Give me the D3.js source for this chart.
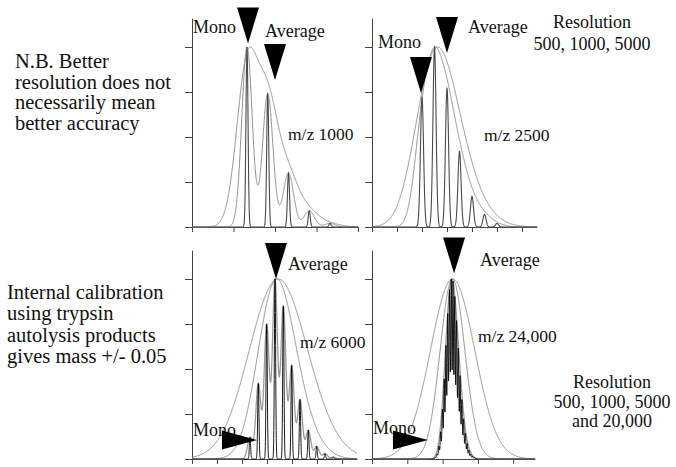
<!DOCTYPE html>
<html>
<head>
<meta charset="utf-8">
<script src="https://cdn.jsdelivr.net/npm/d3@7"></script>
<style>
body { margin: 0; background: #fff; }
svg { display: block; }
</style>
</head>
<body>
<svg id="chart" width="676" height="467"></svg>
<script>
'use strict';

// nominal m/z of the monoisotopic peak in each panel
const panelMz = [1000, 2500, 6000, 24000];
const panelLabels = ["m/z 1000", "m/z 2500", "m/z 6000", "m/z 24,000"];

// resolving powers simulated in the top and bottom rows
const topResolutions = [500, 1000, 5000];
const bottomResolutions = [500, 1000, 5000, 20000];

// relative isotope abundances, mono first, 1 Da apart
const isotopes1000 = [1.0, 0.74, 0.30, 0.09, 0.02];
const isotopes2500 = [0.72, 1.0, 0.77, 0.42, 0.17, 0.07, 0.02];
const isotopes6000 = [0.12, 0.42, 0.75, 1.0, 0.85, 0.52, 0.33, 0.16, 0.07, 0.03, 0.01];
const isotopes24000 = [0, 0, 0.002, 0.009, 0.028, 0.071, 0.151, 0.277, 0.443, 0.630, 0.806,
	0.938, 1.0, 0.985, 0.900, 0.768, 0.614, 0.462, 0.329, 0.222, 0.142, 0.087, 0.050,
	0.028, 0.015, 0.008, 0.004];

const yTickValues = [0, 0.25, 0.5, 0.75, 1];

// arrow targets: [m/z, relative intensity]
const monoMarks = [[1000.05, 1.02], [2499.92, 0.744], [6000.84, 0.105], [23998.8, 0.105]];
const averageMarks = [[1001.35, 0.817], [2502.0, 0.967], [6003.12, 1.0], [24013.6, 1.03]];

const noteTop = ["N.B. Better", "resolution does not", "necessarily mean", "better accuracy"];
const noteBottom = ["Internal calibration", "using trypsin", "autolysis products", "gives mass +/- 0.05"];
const resolutionTop = ["Resolution", "500, 1000, 5000"];
const resolutionBottom = ["Resolution", "500, 1000, 5000", "and 20,000"];

const fontFamily = "'Liberation Serif', 'Times New Roman', Times, 'DejaVu Serif', serif";

let svg = d3.select("#chart");

let panels = [
	{isotopes: isotopes1000, res: topResolutions, range: [192, 358], base: 227, domain: [997.35, 1005.35], step: 2,
		label: [288, 140], mono: [193, 33], average: [265, 37], monoDir: "down", row: "top"},
	{isotopes: isotopes2500, res: topResolutions, range: [372, 537], base: 227, domain: [2496, 2509.2], step: 2,
		label: [484, 141], mono: [378, 48], average: [468, 33], monoDir: "down", row: "top"},
	{isotopes: isotopes6000, res: bottomResolutions, range: [192, 357], base: 459, domain: [5993.04, 6012.84], step: 3,
		label: [300, 348], mono: [193, 436], average: [288, 270], monoDir: "right", row: "bottom"},
	{isotopes: isotopes24000, res: bottomResolutions, range: [372, 535], base: 459, domain: [23967.1, 24059.45], step: 20,
		label: [478, 342], mono: [373, 434], average: [480, 266], monoDir: "right", row: "bottom"}
];

function traceStyle(r, row) {
	if (r >= 20000) {
		return {color: "#000", width: 0.9};
	}
	if (r >= 5000) {
		if (row == "bottom") {
			return {color: "#9a9a9a", width: 1.3};
		}
		return {color: "#4a4a4a", width: 1.1};
	}
	return {color: "#8c8c8c", width: 1};
}

function makeTrace(isotopes, monoMz, resolution, domain, n) {
	let sigma = monoMz / resolution / 4;
	let pts = [];
	for (let k = 0; k <= n; k++) {
		let mz = domain[0] + (domain[1] - domain[0]) * k / n;
		let v = 0;
		isotopes.forEach(function (a, i) {
			let d = mz - (monoMz + i);
			v += a * Math.exp(-d * d / (2 * sigma * sigma));
		});
		pts.push([mz, v]);
	}
	let max = d3.max(pts, p => p[1]);
	return pts.map(p => [p[0], p[1] / max]);
}

function downTriangle(g, x, y) {
	g.append("path")
		.attr("d", "M" + x + "," + y + "L" + (x - 11) + "," + (y - 36) + "L" + (x + 11) + "," + (y - 36) + "Z")
		.attr("fill", "#000");
}

function rightTriangle(g, x, y) {
	g.append("path")
		.attr("d", "M" + x + "," + y + "L" + (x - 35) + "," + (y - 9.5) + "L" + (x - 35) + "," + (y + 9.5) + "Z")
		.attr("fill", "#000");
}

function addText(x, y, txt, size, anchor) {
	svg.append("text")
		.attr("x", x)
		.attr("y", y)
		.attr("font-family", fontFamily)
		.attr("font-size", size)
		.attr("text-anchor", anchor || "start")
		.attr("fill", "#111")
		.text(txt);
}

function drawPanel(p, i) {
	let g = svg.append("g");
	let x = d3.scaleLinear().domain(p.domain).range(p.range);
	let y = d3.scaleLinear().domain([0, 1.16]).range([p.base, p.base - 1.16 * 180]);

	let ticks = d3.range(p.domain[0], p.domain[1] + 0.01, p.step);

	g.append("g")
		.attr("transform", "translate(0," + p.base + ")")
		.call(d3.axisBottom(x).tickValues(ticks).tickSize(5).tickSizeOuter(0).tickFormat(""));
	g.append("g")
		.attr("transform", "translate(" + p.range[0] + ",0)")
		.call(d3.axisLeft(y).tickValues(yTickValues).tickSize(7).tickSizeOuter(0).tickFormat(""));
	g.selectAll(".domain, .tick line").attr("stroke", "#444");

	let line = d3.line()
		.x(d => x(d[0]))
		.y(d => y(d[1]));

	let n = (p.range[1] - p.range[0]) * 10;
	for (let r of p.res) {
		let trace = makeTrace(p.isotopes, panelMz[i], r, p.domain, n);
		let st = traceStyle(r, p.row);
		g.append("path")
			.datum(trace)
			.attr("fill", "none")
			.attr("stroke", st.color)
			.attr("stroke-width", st.width)
			.attr("d", line);
	}

	let m = monoMarks[i];
	let a = averageMarks[i];
	downTriangle(g, x(a[0]), y(a[1]));
	if (p.monoDir == "down") {
		downTriangle(g, x(m[0]), y(m[1]));
	}
	else {
		rightTriangle(g, x(m[0]), y(m[1]));
	}

	addText(p.label[0], p.label[1], panelLabels[i], 17.5);
	addText(p.mono[0], p.mono[1], "Mono", 18);
	addText(p.average[0], p.average[1], "Average", 18);
}

panels.forEach(drawPanel);

noteTop.forEach((t, k) => addText(15, 68 + k * 20.7, t, 20.5));
noteBottom.forEach((t, k) => addText(7, 299 + k * 21.3, t, 20.5));
resolutionTop.forEach((t, k) => addText(592, 28 + k * 22, t, 18, "middle"));
resolutionBottom.forEach((t, k) => addText(612, 388 + k * 19.5, t, 18, "middle"));
</script>
</body>
</html>
